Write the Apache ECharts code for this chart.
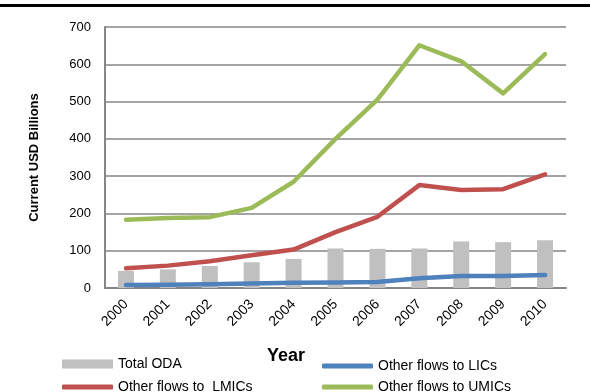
<!DOCTYPE html>
<html>
<head>
<meta charset="utf-8">
<script src="https://cdn.jsdelivr.net/npm/echarts@6/dist/echarts.min.js"></script>
<style>
  html, body { margin: 0; padding: 0; background: #fff; }
  #chart { width: 590px; height: 392px; }
</style>
</head>
<body>
<div id="chart"></div>
<script>
var years = ['2000', '2001', '2002', '2003', '2004', '2005', '2006', '2007', '2008', '2009', '2010'];
var totalOda = [46, 50, 59, 69, 78, 106, 105, 106, 125, 123, 128];
var flowsLics = [8, 9, 10, 12, 14, 15, 16, 26, 32, 32, 35];
var flowsLmics = [53, 60, 72, 88, 103, 150, 191, 276, 263, 265, 305];
var flowsUmics = [183, 188, 190, 215, 285, 400, 505, 651, 608, 522, 627];
var yTicks = { min: 0, max: 700, interval: 100 };

var font = 'Liberation Sans';
var grey = '#868686';

var chart = echarts.init(document.getElementById('chart'));

function lineSeries(name, data, color) {
    return {
        name: name,
        type: 'line',
        data: data,
        symbol: 'none',
        smooth: false,
        lineStyle: { color: color, width: 4.5, cap: 'round', join: 'round' },
        itemStyle: { color: color },
        z: 3
    };
}

// one legend per entry so each sits where it sits in the reference
function legendItem(name, left, top, icon, h) {
    return {
        left: left,
        top: top,
        padding: 0,
        itemWidth: 51,
        itemHeight: h,
        itemGap: 5,
        icon: icon,
        textStyle: { fontSize: 14, color: '#000', fontFamily: font },
        data: [name]
    };
}

var option = {
    animation: false,
    textStyle: { fontFamily: font },
    graphic: [
        {
            type: 'rect',
            shape: { x: 0, y: 4, width: 590, height: 3 },
            style: { fill: '#000' }
        },
        {
            type: 'text',
            left: 267,
            top: 347,
            style: { text: 'Year', font: 'bold 18px ' + font, fill: '#000' }
        }
    ],
    grid: { left: 105, right: 24, top: 27, bottom: 104 },
    legend: [
        legendItem('Total ODA', 62, 357, 'rect', 9),
        legendItem('Other flows to LICs', 322, 359, 'roundRect', 5),
        legendItem('Other flows to  LMICs', 62, 380, 'roundRect', 5),
        legendItem('Other flows to UMICs', 322, 380, 'roundRect', 5)
    ],
    xAxis: {
        type: 'category',
        data: years,
        boundaryGap: true,
        axisLine: { lineStyle: { color: grey, width: 2 } },
        axisTick: { show: false },
        axisLabel: { rotate: 45, margin: 14, fontSize: 14, color: '#000', fontFamily: font }
    },
    yAxis: {
        type: 'value',
        min: yTicks.min,
        max: yTicks.max,
        interval: yTicks.interval,
        name: 'Current USD Billions',
        nameLocation: 'middle',
        nameGap: 64,
        nameRotate: 90,
        nameTextStyle: { fontSize: 13, fontWeight: 'bold', color: '#000', fontFamily: font },
        axisLine: { show: true, lineStyle: { color: grey, width: 2 } },
        axisTick: { show: false },
        axisLabel: { fontSize: 13, color: '#000', margin: 14, fontFamily: font },
        splitLine: { lineStyle: { color: grey, width: 1.5 } }
    },
    series: [
        {
            name: 'Total ODA',
            type: 'bar',
            data: totalOda,
            barWidth: 16,
            itemStyle: { color: '#c0c0c0' },
            z: 2
        },
        lineSeries('Other flows to LICs', flowsLics, '#4f81bd'),
        lineSeries('Other flows to  LMICs', flowsLmics, '#c0504d'),
        lineSeries('Other flows to UMICs', flowsUmics, '#9bbb59')
    ]
};

chart.setOption(option);
</script>
</body>
</html>
